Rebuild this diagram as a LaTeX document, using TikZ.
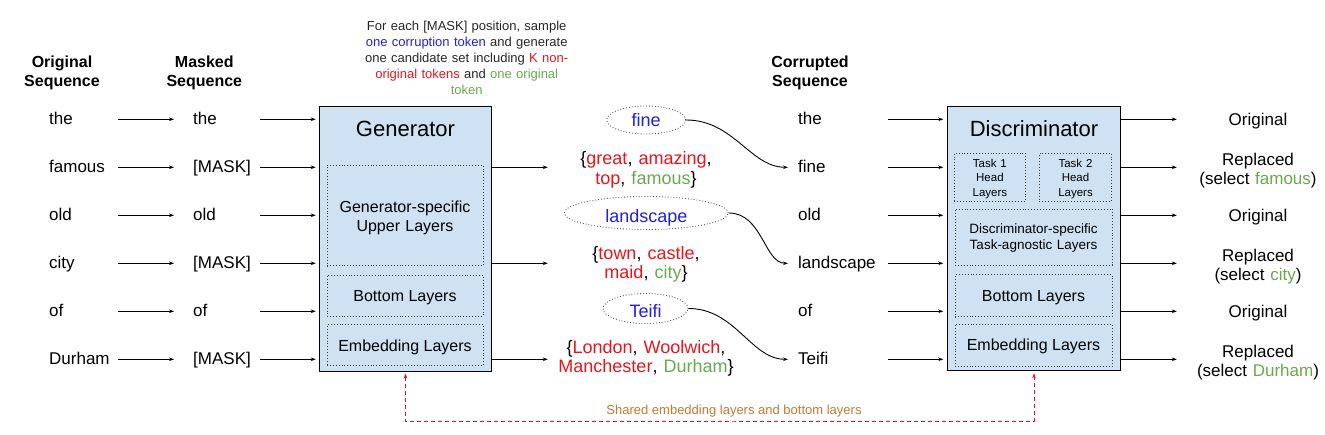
\documentclass[tikz,border=0pt]{standalone}
\usepackage{fontspec}
\setmainfont{Liberation Sans}
\usetikzlibrary{shapes.geometric,arrows.meta}
\definecolor{boxfill}{HTML}{CFE2F3}
\definecolor{tokblue}{HTML}{1F1FE0}
\definecolor{tokred}{HTML}{E8141C}
\definecolor{tokgreen}{HTML}{6AA84F}
\definecolor{shareorange}{HTML}{C27A2E}
\definecolor{sharered}{HTML}{E0101E}
\newcommand{\myfs}[2]{\fontsize{#1}{#2}\selectfont}
\begin{document}
\begin{tikzpicture}[x=1pt,y=-1pt,
  tok/.style={font=\myfs{17}{20}, inner sep=0pt, text height=12.3pt, text depth=0.9pt, align=left, anchor=west},
  hdr/.style={font=\myfs{16}{19}\bfseries, inner sep=0pt, text width=110pt, align=center, anchor=base},
  note/.style={font=\myfs{13}{16}, inner sep=0pt, text width=250pt, align=center, anchor=base, text=black!85},
  arr/.style={-{Stealth[length=5pt,width=3.6pt]}, line width=0.9pt},
  bigbox/.style={draw, line width=1pt, fill=boxfill, minimum width=172.5pt, minimum height=264.5pt, inner sep=0pt},
  layer/.style={draw=black!75, dotted, line width=0.9pt, inner sep=0pt},
  layertxt/.style={font=\myfs{16}{19}, text height=11.5pt, text depth=0pt, align=center},
  title/.style={font=\myfs{22}{24}, inner sep=0pt, anchor=base},
  multitxt/.style={inner sep=0pt, align=center, anchor=base},
  ell/.style={ellipse, draw=black!65, dotted, line width=0.9pt, inner sep=0pt, font=\myfs{18}{20}, text=tokblue},
  cand/.style={font=\myfs{18}{19.5}, inner sep=0pt, text width=186pt, align=center, anchor=base},
  outtxt/.style={font=\myfs{17}{19}, inner sep=0pt, text width=150pt, align=center, anchor=base},
  shared/.style={draw=sharered, dash pattern=on 4pt off 3pt, line width=0.9pt,
    {Stealth[length=5pt,width=3.6pt]}-{Stealth[length=5pt,width=3.6pt]}, shorten <=2pt, shorten >=2pt}
]
\useasboundingbox (0,0) rectangle (1325,435);

% headers
\node[hdr] (h1) at (62,68) {Original\\Sequence};
\node[hdr] (h2) at (204.3,68) {Masked\\Sequence};
\node[hdr] (h3) at (810,67.3) {Corrupted\\Sequence};
\node[note] (note) at (466.7,30.7) {For each [MASK] position, sample\\
  \textcolor{tokblue}{one corruption token} and generate\\
  one candidate set including \textcolor{tokred}{K non-}\\
  \textcolor{tokred}{original tokens} and \textcolor{tokgreen}{one original}\\
  \textcolor{tokgreen}{token}};

% original sequence
\node[tok, text width=64pt] (o1) at (49,119.3) {the};
\node[tok, text width=64pt] (o2) at (49,167.3) {famous};
\node[tok, text width=64pt] (o3) at (49,215.3) {old};
\node[tok, text width=64pt] (o4) at (49,263.3) {city};
\node[tok, text width=64pt] (o5) at (49,311.3) {of};
\node[tok, text width=64pt] (o6) at (49,359.3) {Durham};

% masked sequence
\node[tok, text width=62pt] (m1) at (193,119.3) {the};
\node[tok, text width=62pt] (m2) at (193,167.3) {[MASK]};
\node[tok, text width=62pt] (m3) at (193,215.3) {old};
\node[tok, text width=62pt] (m4) at (193,263.3) {[MASK]};
\node[tok, text width=62pt] (m5) at (193,311.3) {of};
\node[tok, text width=62pt] (m6) at (193,359.3) {[MASK]};

% generator
\node[bigbox] (gen) at (405.5,238.8) {};
\node[title] (gentitle) at (405.5,137) {Generator};
\node[layer, minimum width=156pt, minimum height=100.7pt] (gup) at (405,215.4) {};
\node[multitxt, font=\myfs{16}{19.5}, text width=150pt] (guptxt) at (405,212.2) {Generator-specific\\Upper Layers};
\node[layer, layertxt, minimum width=156pt, minimum height=41pt] (gbot) at (405,295.5) {Bottom Layers};
\node[layer, layertxt, minimum width=156pt, minimum height=40.7pt] (gemb) at (405,345.3) {Embedding Layers};

% sampled tokens and candidate sets
\node[ell, minimum width=79pt, minimum height=28pt, text height=13.1pt, text depth=0pt] (e1) at (646.2,120) {fine};
\node[ell, minimum width=164pt, minimum height=33pt, text height=20pt, text depth=1.4pt] (e2) at (646.3,213) {landscape};
\node[ell, minimum width=85pt, minimum height=30pt, text height=19pt, text depth=1.4pt] (e3) at (645.5,308.5) {Teifi};

\node[cand] (s1) at (646,165) {\{\textcolor{tokred}{great}, \textcolor{tokred}{amazing},\\ \textcolor{tokred}{top}, \textcolor{tokgreen}{famous}\}};
\node[cand] (s2) at (646,259.5) {\{\textcolor{tokred}{town}, \textcolor{tokred}{castle},\\ \textcolor{tokred}{maid}, \textcolor{tokgreen}{city}\}};
\node[cand] (s3) at (646,353.3) {\{\textcolor{tokred}{London}, \textcolor{tokred}{Woolwich},\\ \textcolor{tokred}{Manchester}, \textcolor{tokgreen}{Durham}\}};

% corrupted sequence
\node[tok, text width=80pt] (c1) at (798,119.3) {the};
\node[tok, text width=80pt] (c2) at (798,167.3) {fine};
\node[tok, text width=80pt] (c3) at (798,215.3) {old};
\node[tok, text width=80pt] (c4) at (798,263.3) {landscape};
\node[tok, text width=80pt] (c5) at (798,311.3) {of};
\node[tok, text width=80pt] (c6) at (798,359.3) {Teifi};

% discriminator
\node[bigbox] (disc) at (1034,238.5) {};
\node[title] (disctitle) at (1034,137) {Discriminator};
\node[layer, minimum width=71.7pt, minimum height=47.7pt] (t1) at (989.9,177.2) {};
\node[multitxt, font=\myfs{11.5}{14.5}, text width=70pt] (t1txt) at (989.9,167.3) {Task 1\\Head\\Layers};
\node[layer, minimum width=72.4pt, minimum height=47.7pt] (t2) at (1075.5,177.2) {};
\node[multitxt, font=\myfs{11.5}{14.5}, text width=70pt] (t2txt) at (1075.5,167.3) {Task 2\\Head\\Layers};
\node[layer, minimum width=157pt, minimum height=56pt] (dspec) at (1033.5,237) {};
\node[multitxt, font=\myfs{13.5}{15.6}, text width=155pt] (dspectxt) at (1033.5,234) {Discriminator-specific\\Task-agnostic Layers};
\node[layer, layertxt, minimum width=157pt, minimum height=41.7pt] (dbot) at (1033.5,295.8) {Bottom Layers};
\node[layer, layertxt, minimum width=157pt, minimum height=41.7pt] (demb) at (1033.5,345.2) {Embedding Layers};

% outputs
\node[outtxt] (r1) at (1258,125.3) {Original};
\node[outtxt] (r2) at (1258,166) {Replaced\\(select \textcolor{tokgreen}{famous})};
\node[outtxt] (r3) at (1258,221.3) {Original};
\node[outtxt] (r4) at (1258,262) {Replaced\\(select \textcolor{tokgreen}{city})};
\node[outtxt] (r5) at (1258,317.3) {Original};
\node[outtxt] (r6) at (1258,358) {Replaced\\(select \textcolor{tokgreen}{Durham})};

% connectors
\foreach \i in {1,...,6} {
  \draw[arr, shorten <=5pt, shorten >=19pt] (o\i.east) -- (m\i.west);
  \draw[arr, shorten <=5pt, shorten >=3pt] (m\i.east) -- (m\i.east -| gen.west);
  \draw[arr, shorten <=10pt, shorten >=4pt] (c\i.east) -- (c\i.east -| disc.west);
  \draw[arr, shorten >=6pt] (disc.east |- c\i.east) -- (r\i.west |- c\i.east);
}
\draw[arr, shorten >=5pt] (gen.east |- m2.east) -- (s1.west |- m2.east);
\draw[arr, shorten >=5pt] (gen.east |- m4.east) -- (s2.west |- m4.east);
\draw[arr, shorten >=5pt] (gen.east |- m6.east) -- (s3.west |- m6.east);

\draw[arr, shorten >=10pt] (e1.east) to[out=0,in=180] (c2.west);
\draw[arr, shorten >=10pt] (e2.east) to[out=0,in=180] (c4.west);
\draw[arr, shorten >=10pt] (e3.east) to[out=0,in=180] (c6.west);

% shared layers link
\coordinate (lnk) at (734,421);
\draw[shared] (gen.south) |- (lnk) -| (disc.south);
\node[font=\myfs{13}{15}, text=shareorange, inner sep=0pt, anchor=base] (sharedlbl) at (734,414) {Shared embedding layers and bottom layers};
\end{tikzpicture}
\end{document}
